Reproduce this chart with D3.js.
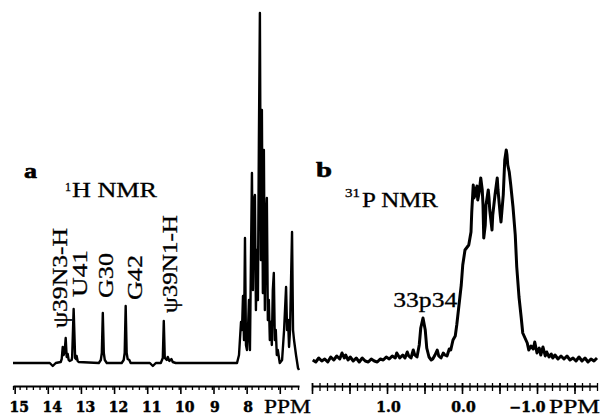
<!DOCTYPE html>
<html>
<head>
<meta charset="utf-8">
<script src="https://cdn.jsdelivr.net/npm/d3@7"></script>
<style>
  body { margin: 0; background: #fff; }
  svg { display: block; }
</style>
</head>
<body>
<div id="chart"></div>
<script>
/* global d3 */

// 1H spectrum: [ppm, intensity (arbitrary units)]
const hSpectrum = [
  [15.05, 0], [13.94, 0], [13.85, -3], [13.76, 0],
  [13.61, 1], [13.58, 4], [13.55, 16], [13.52, 8], [13.49, 12], [13.46, 25], [13.43, 6], [13.40, 9], [13.37, 3], [13.34, 2],
  [13.28, 3], [13.265, 6], [13.22, 54], [13.175, 5], [13.15, 4], [13.13, 7], [13.10, 2], [13.07, 1],
  [12.46, 0], [12.40, 3], [12.37, 10], [12.34, 50], [12.31, 10], [12.28, 3], [12.22, 0],
  [11.77, 0], [11.71, 3], [11.68, 10], [11.65, 57], [11.62, 10], [11.59, 4], [11.54, 3], [11.50, 0],
  [10.92, 0], [10.83, -3], [10.74, 0],
  [10.59, 0], [10.53, 5], [10.50, 42], [10.47, 5], [10.41, 3], [10.38, 6], [10.33, 2], [10.27, 4], [10.23, 1], [10.14, 0],
  [8.29, 0], [8.23, 8], [8.17, 41], [8.14, 33], [8.11, 67], [8.08, 23], [8.05, 125], [8.02, 18], [7.99, 13], [7.96, 33],
  [7.93, 63], [7.90, 13], [7.87, 103], [7.84, 190], [7.81, 73], [7.78, 163], [7.75, 168], [7.72, 53], [7.69, 113], [7.66, 63],
  [7.63, 223], [7.60, 350], [7.57, 103], [7.54, 253], [7.51, 70], [7.48, 213], [7.45, 53], [7.42, 143], [7.39, 165], [7.36, 43],
  [7.33, 63], [7.30, 23], [7.27, 41], [7.24, 18], [7.21, 73], [7.18, 90], [7.15, 23], [7.12, 33], [7.09, 8], [7.06, 13],
  [7.00, 0], [6.93, 3], [6.87, 33], [6.81, 76], [6.78, 33], [6.75, 43], [6.72, 16], [6.69, 33], [6.66, 83], [6.63, 131],
  [6.60, 33], [6.57, 23], [6.51, 8], [6.45, -5], [6.42, -7],
];

// 31P spectrum: [ppm, intensity (arbitrary units)]
const pSpectrum = [
  [1.99, 0], [1.95, -2], [1.91, 2], [1.87, -1], [1.83, 1], [1.79, -2], [1.75, 3], [1.71, 0], [1.67, 4], [1.63, 1],
  [1.60, 7], [1.57, 2], [1.55, 5], [1.52, 0], [1.49, 3], [1.45, -1], [1.41, 2], [1.37, -2], [1.33, 2], [1.29, -1],
  [1.25, -2], [1.21, 1], [1.17, -1], [1.13, -2], [1.09, 1], [1.05, 0], [1.01, 3], [0.97, 1], [0.93, 4], [0.89, 2],
  [0.87, 7], [0.83, 2], [0.79, 5], [0.76, 2], [0.73, 8], [0.71, 4], [0.68, 2], [0.65, 10], [0.63, 5], [0.60, 3],
  [0.57, 15], [0.55, 32], [0.52, 42], [0.49, 30], [0.47, 12], [0.44, 3], [0.41, 0], [0.39, 1], [0.36, 5], [0.33, 10],
  [0.31, 4], [0.28, 2], [0.25, 7], [0.23, 5], [0.20, 4], [0.17, 11], [0.15, 10], [0.12, 20], [0.09, 24], [0.07, 35],
  [0.04, 55], [0.01, 75], [-0.01, 95], [-0.04, 110], [-0.07, 113], [-0.09, 115], [-0.12, 128], [-0.13, 148], [-0.15, 175], [-0.16, 162],
  [-0.17, 172], [-0.19, 164], [-0.20, 174], [-0.21, 160], [-0.23, 168], [-0.25, 182], [-0.27, 170], [-0.28, 155], [-0.29, 122], [-0.31, 135],
  [-0.32, 155], [-0.35, 170], [-0.36, 162], [-0.37, 150], [-0.40, 130], [-0.41, 145], [-0.44, 165], [-0.47, 182], [-0.48, 170], [-0.51, 145],
  [-0.52, 138], [-0.55, 165], [-0.57, 200], [-0.59, 210], [-0.60, 205], [-0.61, 195], [-0.63, 188], [-0.65, 175], [-0.68, 153], [-0.71, 125],
  [-0.73, 93], [-0.76, 63], [-0.79, 42], [-0.81, 27], [-0.84, 22], [-0.87, 17], [-0.89, 10], [-0.92, 14], [-0.95, 11], [-0.97, 18],
  [-1.00, 7], [-1.03, 12], [-1.05, 5], [-1.08, 13], [-1.11, 4], [-1.13, 8], [-1.16, 3], [-1.19, 6], [-1.21, 2], [-1.24, 5],
  [-1.28, 1], [-1.32, 4], [-1.36, 1], [-1.40, 4], [-1.44, 0], [-1.48, 2], [-1.52, -1], [-1.56, 3], [-1.60, -1], [-1.64, 2],
  [-1.68, -2], [-1.72, 1], [-1.76, -1], [-1.80, 2],
];

// axes
const hTickValues = [15, 14, 13, 12, 11, 10, 9, 8, 7];
const hTickLabels = ['15', '14', '13', '12', '11', '10', '9', '8', ''];
const pTickValues = [2.0, 1.5, 1.0, 0.5, 0.0, -0.5, -1.0, -1.5];
const pTickLabels = ['', '', '1.0', '', '0.0', '', '\u22121.0', ''];

// peak assignments (label anchor in ppm / intensity units)
const iminoLabels = ['\u03c839N3-H', 'U41', 'G30', 'G42', '\u03c839N1-H'];
const iminoLabelPpm = [13.42, 12.82, 12.03, 11.16, 10.10];
const iminoLabelInt = [35, 66, 65, 63, 50];
const pPeakLabel = '33p34';
const pPeakLabelPpm = 0.49;
const pPeakLabelInt = 53;

const width = 603;
const height = 416;
const axisY = 386;
const serif = 'Liberation Serif';
const tickFont = 'DejaVu Serif';
const iminoLabelLen = [100, 47, 45, 45, 98];

const xH = d3.scaleLinear().domain([15.05, 6.42]).range([13, 299]);
const yH = d3.scaleLinear().domain([0, 350]).range([363, 13]);
const xP = d3.scaleLinear().domain([2.0, -1.8]).range([312, 597]);
const yP = d3.scaleLinear().domain([0, 210]).range([360, 150]);

const svg = d3.select('#chart').append('svg')
  .attr('width', width)
  .attr('height', height)
  .style('background', '#fff');

const line = (x, y) => d3.line().x(d => x(d[0])).y(d => y(d[1]));

svg.append('path')
  .datum(hSpectrum)
  .attr('d', line(xH, yH))
  .attr('fill', 'none')
  .attr('stroke', '#000')
  .attr('stroke-width', 2.4)
  .attr('stroke-linejoin', 'round');

svg.append('path')
  .datum(pSpectrum)
  .attr('d', line(xP, yP))
  .attr('fill', 'none')
  .attr('stroke', '#000')
  .attr('stroke-width', 3)
  .attr('stroke-linejoin', 'round');

/* ***
  ppm axes
*** */
function drawAxis(x, majors, labels, minorStep, crossing) {
  const [d0, d1] = x.domain();
  const minors = d3.range(Math.round((d0 - d1) / minorStep) + 1).map(i => d0 - i * minorStep);
  const g = svg.append('g').attr('transform', `translate(0,${axisY})`);

  g.append('g')
    .call(d3.axisBottom(x).tickValues(minors).tickSize(crossing ? 5 : 4).tickSizeOuter(0).tickFormat(''))
    .call(s => s.select('.domain').attr('stroke-width', 2))
    .call(s => s.selectAll('.tick line').attr('stroke-width', 1.3).attr('y1', crossing ? -3 : 0));

  const major = g.append('g')
    .call(d3.axisBottom(x).tickValues(majors).tickSize(8).tickSizeOuter(0).tickFormat((d, i) => labels[i]))
    .call(s => s.select('.domain').remove())
    .call(s => s.selectAll('.tick line').attr('stroke-width', 1.6).attr('y1', crossing ? -3 : 0))
    .attr('font-family', tickFont)
    .attr('font-size', 14)
    .attr('font-weight', 'bold');

  major.selectAll('.tick text')
    .attr('y', 26)
    .attr('dy', 0)
    .attr('fill', '#000')
    .attr('stroke', '#000')
    .attr('stroke-width', 0.5)
    .attr('text-anchor', d => (d < 0 ? 'end' : 'middle'))
    .attr('dx', (d, i) => {
      if (d < 0) return 8;
      return labels[i].length === 2 ? 4 : 1;
    });
}

drawAxis(xH, hTickValues, hTickLabels, 0.2, false);
drawAxis(xP, pTickValues, pTickLabels, 0.1, true);

const text = (x, y, str, size, opts = {}) => {
  const t = svg.append('text')
    .attr('x', x)
    .attr('y', y)
    .attr('font-family', opts.font || serif)
    .attr('font-size', size)
    .attr('font-weight', opts.bold ? 'bold' : 'normal')
    .attr('text-anchor', opts.anchor || 'start')
    .attr('stroke', '#000')
    .attr('stroke-width', opts.bold ? 0.6 : 0.3)
    .text(str);
  if (opts.len) {
    t.attr('textLength', opts.len).attr('lengthAdjust', 'spacingAndGlyphs');
  }
  return t;
};

text(264, 413, 'PPM', 19, { len: 47 });
text(549, 413, 'PPM', 19, { len: 51 });

// panel letters and titles
text(24, 178, 'a', 22, { bold: true, len: 13 });
text(65, 191, '1', 12);
text(72, 197, 'H NMR', 21, { len: 85 });
text(316, 177, 'b', 22, { bold: true, len: 16 });
text(345, 197, '31', 13, { len: 15 });
text(362, 207, 'P NMR', 21, { len: 76 });

// imino proton assignments
svg.selectAll('.imino')
  .data(iminoLabels)
  .enter().append('text')
    .attr('class', 'imino')
    .attr('transform', (d, i) => `translate(${xH(iminoLabelPpm[i])},${yH(iminoLabelInt[i])}) rotate(-90)`)
    .attr('font-family', serif)
    .attr('font-size', 20)
    .attr('stroke', '#000')
    .attr('stroke-width', 0.3)
    .attr('textLength', (d, i) => iminoLabelLen[i])
    .attr('lengthAdjust', 'spacingAndGlyphs')
    .text(d => d);

text(xP(pPeakLabelPpm), yP(pPeakLabelInt), pPeakLabel, 22, { anchor: 'middle', len: 64 });
</script>
</body>
</html>
